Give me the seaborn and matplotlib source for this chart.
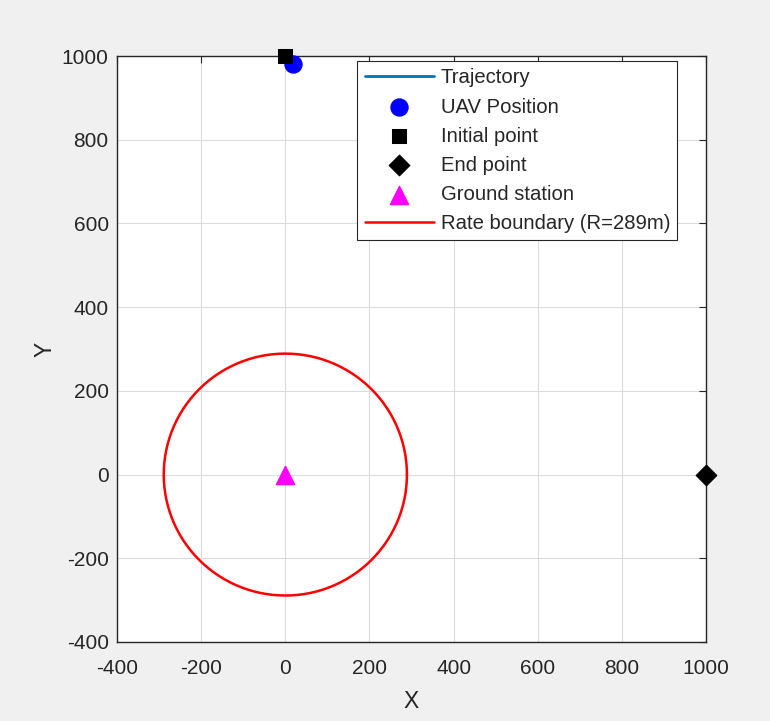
import numpy as np
import pandas as pd
import matplotlib
matplotlib.use("Agg")
import matplotlib.pyplot as plt
import seaborn as sns

# --- data ---
traj_x = [0, 18]
traj_y = [1000, 980]
uav_pos = (18, 980)
start_pt = (0, 1000)
end_pt = (1000, 0)
ground = (0, 0)
radius = 289
x_ticks = [-400, -200, 0, 200, 400, 600, 800, 1000]
y_ticks = [-400, -200, 0, 200, 400, 600, 800, 1000]

sns.set_style("white")
plt.rcParams['font.family'] = ['Liberation Sans', 'DejaVu Sans']
plt.rcParams['axes.unicode_minus'] = False

fig = plt.figure(figsize=(7.7, 7.21), dpi=100, facecolor="#f0f0f0")
ax = fig.add_axes([0.152, 0.1096, 0.765, 0.8127])
ax.set_facecolor("white")

theta = np.linspace(0, 2 * np.pi, 361)
circ = pd.DataFrame({"x": radius * np.cos(theta), "y": radius * np.sin(theta)})
traj = pd.DataFrame({"x": traj_x, "y": traj_y})

sns.lineplot(data=traj, x="x", y="y", sort=False, estimator=None, color="#0072BD", lw=2,
             label="Trajectory", ax=ax, zorder=3)
sns.scatterplot(x=[uav_pos[0]], y=[uav_pos[1]], marker="o", s=150, color="blue",
                edgecolor="blue", label="UAV Position", ax=ax, zorder=4, clip_on=False)
sns.scatterplot(x=[start_pt[0]], y=[start_pt[1]], marker="s", s=90, color="black",
                edgecolor="black", label="Initial point", ax=ax, zorder=5, clip_on=False)
sns.scatterplot(x=[end_pt[0]], y=[end_pt[1]], marker="D", s=110, color="black",
                edgecolor="black", label="End point", ax=ax, zorder=5, clip_on=False)
sns.scatterplot(x=[ground[0]], y=[ground[1]], marker="^", s=170, color="magenta",
                edgecolor="magenta", label="Ground station", ax=ax, zorder=4)
sns.lineplot(data=circ, x="x", y="y", sort=False, estimator=None, color="red", lw=1.8,
             label=f"Rate boundary (R={radius}m)", ax=ax, zorder=3)

ax.set_xlim(-400, 1000)
ax.set_ylim(-400, 1000)
ax.set_xticks(x_ticks)
ax.set_yticks(y_ticks)
ax.grid(True, color="#dcdcdc", lw=0.8)
ax.set_axisbelow(True)
ax.tick_params(direction="in", length=5, width=0.8, colors="#262626",
               labelsize=15, top=True, right=True)
ax.tick_params(axis="x", pad=12)
ax.tick_params(axis="y", pad=6)
for sp in ax.spines.values():
    sp.set_color("#262626")
    sp.set_linewidth(1.0)
ax.set_xlabel("X", fontsize=16.5, color="#262626", labelpad=9)
ax.set_ylabel("Y", fontsize=16.5, color="#262626", labelpad=4)

leg = ax.legend(loc="upper right", bbox_to_anchor=(0.951, 0.991), fontsize=14.6,
                frameon=True, fancybox=False, edgecolor="#262626", framealpha=1,
                labelspacing=0.5, handlelength=3.4, handletextpad=0.35,
                borderpad=0.35, borderaxespad=0)
leg.get_frame().set_linewidth(0.8)

fig.savefig("out.png", dpi=100, facecolor=fig.get_facecolor())
